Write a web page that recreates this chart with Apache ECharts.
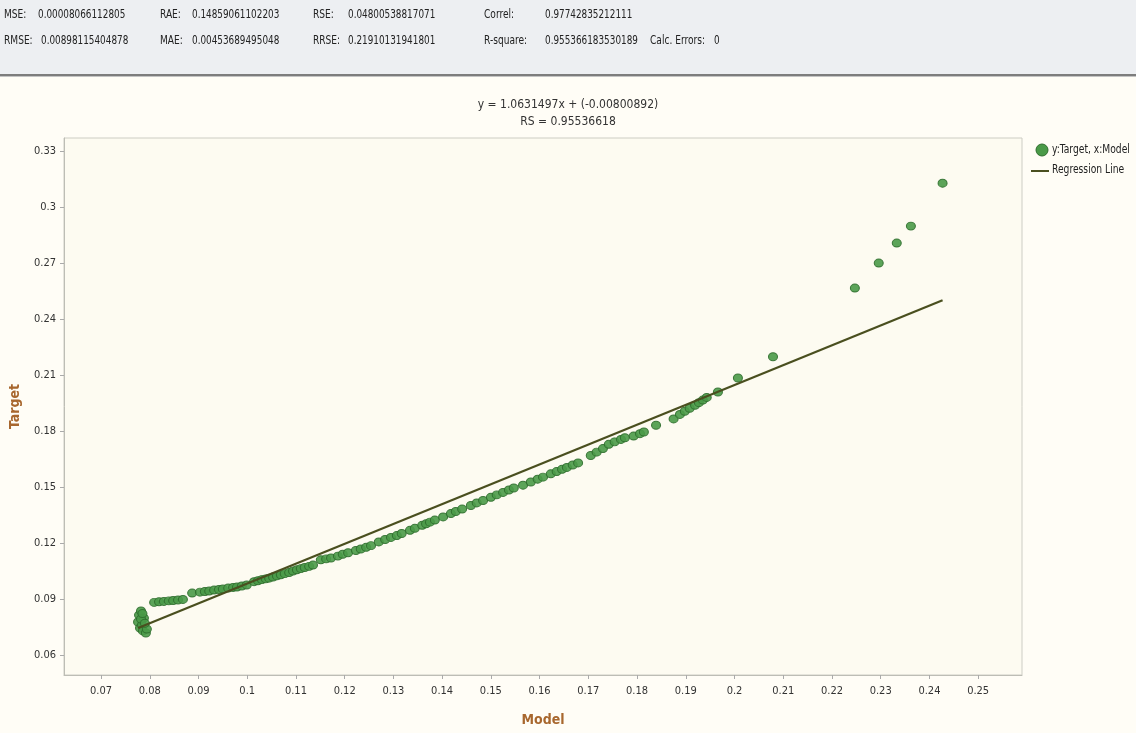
<!DOCTYPE html>
<html>
<head>
<meta charset="utf-8">
<script src="https://cdn.jsdelivr.net/npm/echarts@6/dist/echarts.min.js"></script>
<style>
html,body{margin:0;padding:0;background:#fffdf6;}
#chart{width:1136px;height:733px;}
</style>
</head>
<body>
<div id="chart"></div>
<script>
// ---- data ----
const modelValues = [
  0.0776,0.0778,0.0780,0.0782,0.0784,0.0786,0.0788,0.0792,0.0794,0.0782,0.0790,0.0785,
  0.0809,0.0819,0.0829,0.0839,0.0848,0.0858,0.0868,
  0.0887,0.0903,0.0913,0.0922,0.0932,0.0942,0.0950,0.0961,0.0971,0.0979,0.0989,0.0999,
  0.1014,0.1022,0.1030,0.1038,0.1045,0.1053,0.1061,0.1069,0.1077,0.1086,0.1094,0.1102,0.1110,0.1118,0.1127,0.1135,
  0.1151,0.1162,0.1172,0.1186,0.1196,0.1207,0.1223,0.1233,0.1244,0.1254,
  0.1270,0.1283,0.1295,0.1307,0.1317,0.1334,0.1344,0.1359,0.1367,0.1375,0.1385,0.1402,0.1418,0.1428,0.1441,
  0.1459,0.1471,0.1484,0.1500,0.1512,0.1525,0.1537,0.1547,
  0.1566,0.1582,0.1596,0.1607,0.1623,0.1635,0.1646,0.1656,0.1668,0.1679,
  0.1705,0.1717,0.1730,0.1742,0.1754,0.1767,0.1775,0.1793,0.1806,0.1814,0.1839,
  0.1875,0.1888,0.1898,0.1908,0.1919,0.1927,0.1935,0.1943,0.1966,0.2007,0.2079,
  0.2247,0.2296,0.2333,0.2362,0.2427
];
const targetValues = [
  0.0777,0.0814,0.0745,0.0836,0.0761,0.0729,0.0798,0.0718,0.0739,0.0793,0.0770,0.0822,
  0.0882,0.0885,0.0887,0.0890,0.0892,0.0895,0.0898,
  0.0932,0.0937,0.0940,0.0943,0.0948,0.0951,0.0954,0.0959,0.0962,0.0964,0.0970,0.0975,
  0.0993,0.0998,0.1004,0.1008,0.1012,0.1018,0.1024,0.1030,0.1036,0.1042,0.1050,0.1057,0.1063,0.1069,0.1075,0.1082,
  0.1110,0.1115,0.1120,0.1130,0.1140,0.1148,0.1160,0.1168,0.1177,0.1186,
  0.1206,0.1219,0.1230,0.1240,0.1251,0.1268,0.1279,0.1295,0.1303,0.1312,0.1323,0.1340,0.1358,0.1369,0.1382,
  0.1401,0.1415,0.1428,0.1445,0.1458,0.1471,0.1484,0.1495,
  0.1510,0.1527,0.1542,0.1553,0.1571,0.1583,0.1595,0.1605,0.1618,0.1629,
  0.1669,0.1687,0.1706,0.1729,0.1742,0.1755,0.1764,0.1773,0.1786,0.1795,0.1831,
  0.1865,0.1889,0.1906,0.1922,0.1938,0.1952,0.1966,0.1980,0.2009,0.2084,0.2198,
  0.2566,0.2700,0.2807,0.2898,0.3128
];
const regSlope = 1.0631497;
const regIntercept = -0.00800892;
const titleLines = ['y = 1.0631497x + (-0.00800892)', 'RS = 0.95536618'];
const xTicks = [0.07,0.08,0.09,0.1,0.11,0.12,0.13,0.14,0.15,0.16,0.17,0.18,0.19,0.2,0.21,0.22,0.23,0.24,0.25];
const yTicks = [0.06,0.09,0.12,0.15,0.18,0.21,0.24,0.27,0.3,0.33];
const statLabels = ['MSE:','RAE:','RSE:','Correl:','RMSE:','MAE:','RRSE:','R-square:','Calc. Errors:'];
const statValues = ['0.00008066112805','0.14859061102203','0.04800538817071','0.97742835212111',
                    '0.00898115404878','0.00453689495048','0.21910131941801','0.955366183530189','0'];
const seriesNames = ['y:Target, x:Model','Regression Line'];

// ---- build ----
const FONT = '"DejaVu Sans Condensed","Liberation Sans",sans-serif';
const points = modelValues.map((m,i)=>[m, targetValues[i]]);
const xMin = Math.min(...modelValues), xMax = Math.max(...modelValues);
const regLine = [[xMin, regSlope*xMin+regIntercept],[xMax, regSlope*xMax+regIntercept]];
const GREEN = '#4a9a48', GREEN_EDGE = '#2f6e2e', LINE_COLOR = '#4a4f1f';

const labelX = [4,160,313,484, 4,160,313,484,650];
const valueX = [38,192,348,545, 41,192,348,545,714];
const rowY = [16,16,16,16, 42,42,42,42,42];
const graphic = [
  {type:'rect', left:0, top:0, shape:{width:1136,height:74}, style:{fill:'#edeff2'}, silent:true},
  {type:'rect', left:0, top:74, shape:{width:1136,height:2}, style:{fill:'#7d7d7d'}, silent:true},
  {type:'rect', left:0, top:76, shape:{width:1136,height:1}, style:{fill:'#c4c4c4'}, silent:true}
];
statLabels.forEach((t,i)=>{
  graphic.push({type:'text', x:labelX[i], y:rowY[i]-7, scaleX:0.84, style:{text:t, font:'12px '+FONT, fill:'#222'}});
  graphic.push({type:'text', x:valueX[i], y:rowY[i]-7, scaleX:0.82, style:{text:statValues[i], font:'12px '+FONT, fill:'#222'}});
});
// legend (drawn as graphic so the narrow font width matches)
graphic.push({type:'circle', x:1042, y:150, shape:{r:6}, style:{fill:GREEN, stroke:GREEN_EDGE, lineWidth:1}});
graphic.push({type:'text', x:1052, y:144, scaleX:0.85, style:{text:seriesNames[0], font:'12px '+FONT, fill:'#222'}});
graphic.push({type:'line', shape:{x1:1031, y1:171, x2:1049, y2:171}, style:{stroke:LINE_COLOR, lineWidth:2}});
graphic.push({type:'text', x:1052, y:164, scaleX:0.85, style:{text:seriesNames[1], font:'12px '+FONT, fill:'#222'}});

const chart = echarts.init(document.getElementById('chart'), null, {renderer:'canvas'});
chart.setOption({
  backgroundColor:'#fffdf6',
  animation:false,
  graphic: graphic,
  title:[
    {text:titleLines[0], left:'center', top:94, textStyle:{fontSize:12, fontWeight:'normal', color:'#333', fontFamily:FONT}},
    {text:titleLines[1], left:'center', top:111, textStyle:{fontSize:12, fontWeight:'normal', color:'#333', fontFamily:FONT}}
  ],
  grid:{left:63, right:114, top:138, bottom:58, show:true, backgroundColor:'#fdfbf1', borderColor:'#cdcdc4', borderWidth:1},
  xAxis:{
    type:'value', min:0.0624, max:0.259,
    name:'Model', nameLocation:'middle', nameGap:38,
    nameTextStyle:{fontSize:14, fontWeight:'bold', color:'#a8672e', fontFamily:FONT},
    axisLine:{show:true, lineStyle:{color:'#bdbdb5'}},
    axisTick:{show:true, customValues:xTicks, length:4, lineStyle:{color:'#aaa'}},
    axisLabel:{customValues:xTicks, fontSize:11, color:'#333', fontFamily:FONT, margin:11},
    splitLine:{show:false}
  },
  yAxis:{
    type:'value', min:0.0493, max:0.337,
    name:'Target', nameLocation:'middle', nameGap:42, nameRotate:90,
    nameTextStyle:{fontSize:14, fontWeight:'bold', color:'#a8672e', fontFamily:FONT},
    axisLine:{show:true, lineStyle:{color:'#bdbdb5'}},
    axisTick:{show:true, customValues:yTicks, length:4, lineStyle:{color:'#aaa'}},
    axisLabel:{customValues:yTicks, fontSize:11, color:'#333', fontFamily:FONT, margin:8},
    splitLine:{show:false}
  },
  series:[
    {name:seriesNames[0], type:'scatter', data:points, symbol:'circle', symbolSize:[9,8],
     itemStyle:{color:GREEN, opacity:0.9, borderColor:GREEN_EDGE, borderWidth:1}, z:3},
    {name:seriesNames[1], type:'line', data:regLine, symbol:'none',
     lineStyle:{color:LINE_COLOR, width:2.2}, itemStyle:{color:LINE_COLOR}, z:4}
  ]
});
</script>
</body>
</html>
